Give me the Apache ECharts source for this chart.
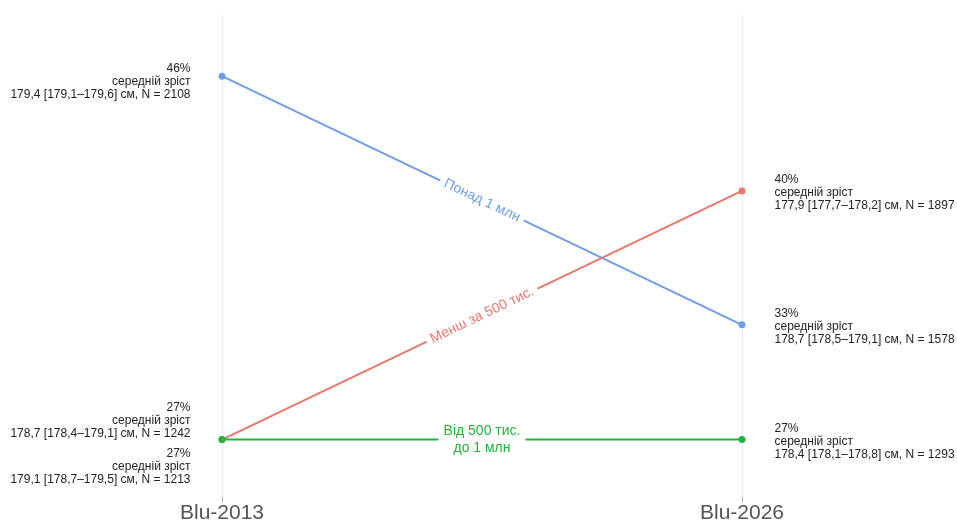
<!DOCTYPE html>
<html><head><meta charset="utf-8">
<script src="https://cdn.jsdelivr.net/npm/echarts@6/dist/echarts.min.js"></script>
<style>html,body{margin:0;padding:0;background:#fff}#c{width:957px;height:524px}</style>
</head><body><div id="c"></div>
<script>
const categories = ['Blu-2013', 'Blu-2026'];
const seriesNames = ['Понад 1 млн', 'Менш за 500 тис.', 'Від 500 тис.\nдо 1 млн'];
const valuesOver1m = [46, 33];
const valuesUnder500k = [27, 40];
const values500kTo1m = [27, 27];
const labelsOver1m = [['46%', 'середній зріст', '179,4 [179,1–179,6] см, N = 2108'], ['33%', 'середній зріст', '178,7 [178,5–179,1] см, N = 1578']];
const labelsUnder500k = [['27%', 'середній зріст', '178,7 [178,4–179,1] см, N = 1242'], ['40%', 'середній зріст', '177,9 [177,7–178,2] см, N = 1897']];
const labels500kTo1m = [['27%', 'середній зріст', '179,1 [178,7–179,5] см, N = 1213'], ['27%', 'середній зріст', '178,4 [178,1–178,8] см, N = 1293']];
const colors = ['#6d9eeb', '#e8776c', '#22b33a'];

const FONT = '"Liberation Sans", Arial, sans-serif';

function makeSeries(name, vals, labels, color, leftOffset) {
  const data = vals.map((v, i) => ({
    value: [i, v],
    label: {
      show: true,
      position: i === 0 ? 'left' : 'right',
      distance: i === 0 ? 28 : 29,
      align: i === 0 ? 'right' : 'left',
      offset: i === 0 ? [0, leftOffset] : [0, 2],
      formatter: labels[i].join('\n'),
      color: '#222',
      fontSize: 12,
      lineHeight: 13,
      fontFamily: FONT
    }
  }));
  return {
    type: 'line',
    name: name,
    data: data,
    symbol: 'circle',
    symbolSize: 7,
    color: color,
    lineStyle: { width: 2, color: color },
    itemStyle: { color: color },
    z: 3,
    markLine: {
      silent: true,
      symbol: 'none',
      z: 5,
      lineStyle: { color: 'rgba(255,255,255,0)', width: 1, type: 'solid' },
      label: {
        show: true,
        position: 'middle',
        formatter: name,
        color: color,
        fontSize: 14,
        lineHeight: 17,
        fontFamily: FONT,
        backgroundColor: '#fff',
        padding: [0, 5],
        verticalAlign: 'middle',
        distance: 0
      },
      data: [[{ coord: [0, vals[0]] }, { coord: [1, vals[1]] }]]
    }
  };
}

const chart = echarts.init(document.getElementById('c'), null, { renderer: 'canvas' });
chart.setOption({
  animation: false,
  backgroundColor: '#fff',
  grid: { left: 222, right: 215, top: 15, bottom: 22, containLabel: false },
  xAxis: {
    type: 'category',
    data: categories,
    boundaryGap: false,
    axisLine: { show: false },
    axisTick: { show: true, length: 5, lineStyle: { color: '#aaa' } },
    splitLine: { show: true, lineStyle: { color: '#ebebeb', width: 1 } },
    axisLabel: { color: '#555', fontSize: 21, fontFamily: FONT, margin: 6 }
  },
  yAxis: {
    type: 'value', min: 24, max: 49.2,
    show: false, splitLine: { show: false }
  },
  series: [
    makeSeries(seriesNames[0], valuesOver1m, labelsOver1m, colors[0], 5),
    makeSeries(seriesNames[1], valuesUnder500k, labelsUnder500k, colors[1], -19),
    makeSeries(seriesNames[2], values500kTo1m, labels500kTo1m, colors[2], 27)
  ]
});
</script></body></html>
